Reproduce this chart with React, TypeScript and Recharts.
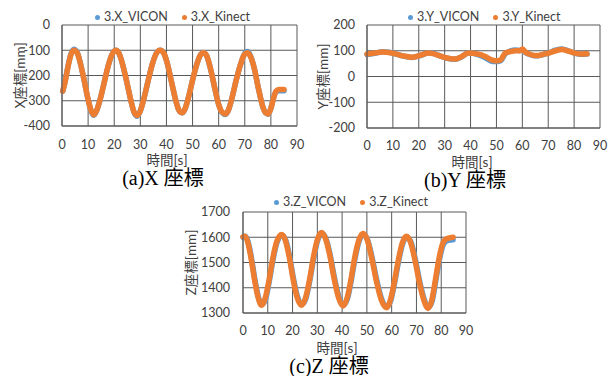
import React from 'react';
import { LineChart, Line, XAxis, YAxis, CartesianGrid } from 'recharts';

const timeTicks = [0, 10, 20, 30, 40, 50, 60, 70, 80, 90];
const xTicks = [-400, -300, -200, -100, 0];
const yTicks = [-200, -100, 0, 100, 200];
const zTicks = [1300, 1400, 1500, 1600, 1700];

// (a) X
const xTime = [0.3, 1.2, 2.4, 3.4, 4.6, 5.8, 7, 8.4, 10, 11.2, 12.2, 13.3, 14.6, 16, 17.6, 19, 20.6, 21.8, 23.2, 24.8, 26.4, 27.6, 28.8, 30, 31.4, 33, 34.6, 36, 37.6, 39, 40.4, 42, 43.6, 44.8, 46, 47.2, 48.6, 50.2, 51.8, 53.2, 54.2, 55.4, 56.8, 58.4, 60, 61.3, 62.6, 63.8, 65.2, 66.8, 68.4, 69.8, 71, 72.2, 73.6, 75.2, 76.8, 78, 79, 80, 81, 82, 83, 85];
const xKinect = [-262, -225, -160, -118, -100, -110, -150, -215, -295, -340, -355, -338, -295, -235, -165, -120, -100, -112, -155, -225, -300, -345, -358, -340, -290, -220, -155, -115, -100, -112, -155, -228, -300, -338, -348, -330, -280, -210, -150, -116, -110, -122, -170, -245, -315, -345, -352, -335, -285, -215, -155, -118, -110, -125, -170, -250, -320, -348, -352, -330, -290, -262, -255, -255];
const xVicon = [-262, -222, -158, -115, -96, -108, -150, -215, -296, -342, -357, -338, -295, -235, -165, -120, -100, -112, -155, -225, -300, -346, -361, -340, -290, -220, -155, -115, -100, -112, -155, -228, -300, -338, -348, -330, -280, -210, -150, -116, -110, -122, -170, -245, -315, -346, -354, -335, -285, -215, -155, -116, -105, -122, -170, -250, -320, -348, -353, -330, -290, -264, -260, -260];

// (b) Y
const yTime = [0, 3, 6, 8.5, 11, 14, 17.4, 20.5, 23.8, 25.5, 27.6, 30.5, 34, 36.5, 39.2, 42.5, 45.7, 48, 49.5, 51.5, 53.4, 55.5, 57.3, 59, 60.1, 61, 62.4, 64.5, 66.3, 68, 70.2, 72.8, 75.3, 78, 80.4, 82.5, 85];
const yKinect = [87, 91, 95, 93, 88, 80, 75, 82, 91, 89, 82, 73, 68, 77, 91, 88, 78, 65, 61, 64, 91, 97, 100, 100, 107, 96, 88, 82, 82, 86, 91, 100, 105, 98, 91, 87, 88];
const yVicon = [85, 90, 96, 94, 88, 79, 74, 81, 92, 90, 82, 72, 67, 76, 92, 86, 73, 60, 58, 61, 88, 100, 103, 101, 104, 95, 87, 81, 81, 85, 92, 102, 107, 99, 90, 86, 87];

// (c) Z
const zTime = [0, 0.8, 1.8, 3.2, 4.6, 6, 7.5, 9, 10.5, 12, 13.5, 15.6, 17.2, 18.8, 20.3, 21.9, 23.7, 25.4, 27, 28.6, 30, 31.7, 33.4, 35.1, 36.8, 38.6, 40.4, 42.1, 43.7, 45.3, 46.8, 48.5, 50.2, 52, 53.8, 55.8, 57.9, 59.6, 61.2, 62.8, 64.3, 66, 67.7, 69.4, 71.2, 73, 74.7, 76.3, 77.8, 79.3, 80.6, 81.8, 83.2, 84.8];
const zKinect = [1602, 1604, 1585, 1520, 1435, 1365, 1331, 1360, 1430, 1515, 1580, 1611, 1585, 1515, 1430, 1360, 1331, 1365, 1440, 1530, 1590, 1619, 1592, 1525, 1435, 1360, 1328, 1362, 1440, 1530, 1590, 1615, 1588, 1515, 1428, 1352, 1321, 1355, 1430, 1515, 1578, 1604, 1578, 1510, 1420, 1350, 1318, 1355, 1440, 1525, 1575, 1592, 1597, 1600];
const zVicon = [1600, 1604, 1590, 1530, 1445, 1372, 1334, 1352, 1420, 1505, 1572, 1608, 1590, 1524, 1440, 1368, 1334, 1358, 1430, 1520, 1583, 1616, 1597, 1534, 1445, 1368, 1331, 1355, 1430, 1520, 1583, 1612, 1592, 1524, 1438, 1360, 1324, 1348, 1420, 1505, 1570, 1600, 1583, 1520, 1430, 1358, 1322, 1346, 1428, 1512, 1565, 1583, 1588, 1590];

const BLUE = '#5B9BD5';
const ORANGE = '#ED7D31';
const GRID = '#595959';
const TEXT = '#404040';
const SANS = "Lato, 'Noto Sans CJK JP', sans-serif";
const SERIF = "'Liberation Serif', 'Noto Sans CJK JP', serif";

const rows = (t: number[], v: number[], k: number[]) => t.map((x, i) => ({ t: x, vicon: v[i], kinect: k[i] }));

interface PanelProps {
  data: { t: number; vicon: number; kinect: number }[];
  ticks: number[];
  yLabel: string;
  width: number;
  height: number;
  margin: { top: number; right: number; left: number; bottom: number };
  yWidth: number;
  labelOffset: number;
  xMargin: number;
  yMargin: number;
}

function Panel({ data, ticks, yLabel, width, height, margin, yWidth, labelOffset, xMargin, yMargin }: PanelProps) {
  return (
    <LineChart width={width} height={height} data={data} margin={margin}>
      <CartesianGrid stroke={GRID} />
      <XAxis type="number" dataKey="t" domain={[0, 90]} ticks={timeTicks} interval={0} height={24}
        axisLine={{ stroke: GRID }} tickLine={false} tickSize={0} tickMargin={xMargin}
        tick={{ fontSize: 12.5, fill: TEXT }} />
      <YAxis type="number" domain={[ticks[0], ticks[ticks.length - 1]]} ticks={ticks} interval={0} width={yWidth}
        axisLine={{ stroke: GRID }} tickLine={false} tickSize={0} tickMargin={yMargin}
        tick={{ fontSize: 12.5, fill: TEXT }}
        label={{ value: yLabel, angle: -90, position: 'insideLeft', offset: labelOffset, style: { textAnchor: 'middle', fontSize: 13.5, fill: TEXT } }} />
      <Line type="monotone" dataKey="vicon" stroke={BLUE} strokeWidth={5.5} dot={false} strokeLinecap="round" strokeLinejoin="round" isAnimationActive={false} />
      <Line type="monotone" dataKey="kinect" stroke={ORANGE} strokeWidth={5.5} dot={false} strokeLinecap="round" strokeLinejoin="round" isAnimationActive={false} />
    </LineChart>
  );
}

function LegendRow({ left, top, name }: { left: number; top: number; name: string }) {
  const dot = (c: string) => <span style={{ width: 5, height: 5, borderRadius: 3, background: c, display: 'inline-block', marginRight: 4 }} />;
  return (
    <div style={{ position: 'absolute', left, top, display: 'flex', alignItems: 'center', fontSize: 12.5, color: TEXT, lineHeight: '14px', whiteSpace: 'nowrap' }}>
      {dot(BLUE)}<span>{`3.${name}_VICON`}</span>
      <span style={{ width: 14 }} />
      {dot(ORANGE)}<span>{`3.${name}_Kinect`}</span>
    </div>
  );
}

const abs = (left: number, top: number): React.CSSProperties => ({ position: 'absolute', left, top });

function Title({ cx, top, text }: { cx: number; top: number; text: string }) {
  return <div style={{ position: 'absolute', left: cx - 40, top, width: 80, textAlign: 'center', fontSize: 13.5, lineHeight: '14px', color: TEXT, whiteSpace: 'nowrap' }}>{text}</div>;
}

function Caption({ cx, top, text }: { cx: number; top: number; text: string }) {
  return <div style={{ position: 'absolute', left: cx - 60, top, width: 120, textAlign: 'center', fontFamily: SERIF, fontSize: 20, lineHeight: '20px', color: '#000', whiteSpace: 'nowrap' }}>{text}</div>;
}

export default function App() {
  return (
    <div style={{ position: 'absolute', left: 0, top: 0, width: 616, height: 376, background: '#fff', fontFamily: SANS, overflow: 'hidden' }}>
      <div style={abs(0, 0)}>
        <Panel data={rows(xTime, xVicon, xKinect)} ticks={xTicks} yLabel="X座標[mm]" width={310} height={160}
          margin={{ top: 25, right: 13, left: 0, bottom: 10 }} yWidth={62} labelOffset={20} xMargin={14} yMargin={12} />
      </div>
      <div style={abs(306, 0)}>
        <Panel data={rows(yTime, yVicon, yKinect)} ticks={yTicks} yLabel="Y座標[mm]" width={310} height={162}
          margin={{ top: 25, right: 16, left: 0, bottom: 10 }} yWidth={61} labelOffset={17} xMargin={13} yMargin={12} />
      </div>
      <div style={abs(180, 185)}>
        <Panel data={rows(zTime, zVicon, zKinect)} ticks={zTicks} yLabel="Z座標[mm]" width={300} height={162}
          margin={{ top: 27, right: 14, left: 0, bottom: 10 }} yWidth={63} labelOffset={11} xMargin={13} yMargin={13} />
      </div>

      <LegendRow left={95} top={10} name="X" />
      <LegendRow left={408} top={10} name="Y" />
      <LegendRow left={274} top={195} name="Z" />

      <Title cx={167} top={153} text="時間[s]" />
      <Title cx={472} top={155} text="時間[s]" />
      <Title cx={337} top={341} text="時間[s]" />

      <Caption cx={163} top={168} text="(a)X 座標" />
      <Caption cx={465} top={170} text="(b)Y 座標" />
      <Caption cx={329} top={356} text="(c)Z 座標" />
    </div>
  );
}
